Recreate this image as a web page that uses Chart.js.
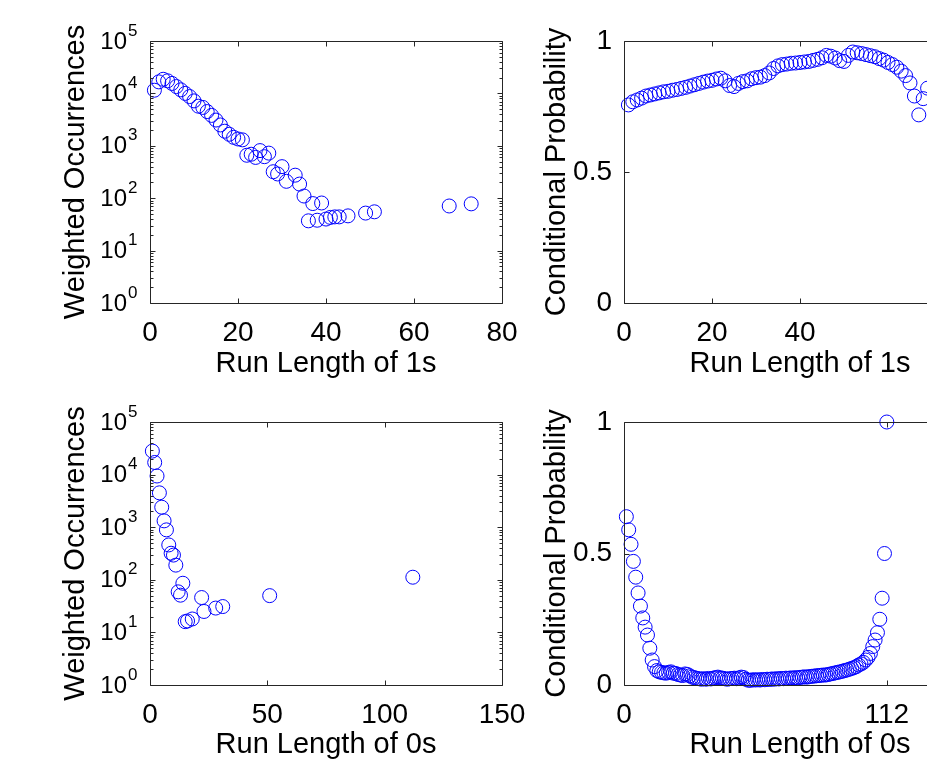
<!DOCTYPE html>
<html>
<head>
<meta charset="utf-8">
<script src="https://cdn.jsdelivr.net/npm/chart.js@4.4.0/dist/chart.umd.min.js"></script>
<style>
  html, body { margin: 0; padding: 0; background: #fff; overflow: hidden; }
  body { width: 927px; height: 761px; position: relative; }
  canvas { position: absolute; }
</style>
</head>
<body>
<canvas id="ones-occ" width="540" height="380" style="left:0;top:0"></canvas>
<canvas id="ones-prob" width="470" height="380" style="left:530px;top:0"></canvas>
<canvas id="zeros-occ" width="540" height="381" style="left:0;top:380px"></canvas>
<canvas id="zeros-prob" width="470" height="381" style="left:530px;top:380px"></canvas>
<script>
// run length of 1s -> weighted occurrences
const onesRunLength = [1, 2, 3, 4, 5, 6, 7, 8, 9, 10, 11, 12, 13, 14, 15, 16, 17, 18, 19, 20,
    21, 22, 23, 24, 25, 26, 27, 28, 29, 30, 31, 33, 34, 35, 36, 37, 38, 39, 40, 41, 42, 43, 45, 49, 51, 68, 73];
const onesOccurrences = [11500, 16600, 18600, 17400, 15500, 13500, 11700, 10000, 8700, 7200, 5700, 5400, 4500, 3800, 3100, 2500, 1900, 1660, 1450, 1350,
    1300, 660, 690, 600, 810, 620, 725, 320, 290, 400, 210, 275, 186, 110, 37, 79, 38, 81, 40, 43, 44, 44, 46, 52, 55, 71, 78];

// conditional probability for 1s (run length 1..69)
const onesProbability = [0.756, 0.768, 0.775, 0.782, 0.790, 0.794, 0.798, 0.802, 0.806, 0.808,
    0.812, 0.815, 0.819, 0.823, 0.828, 0.833, 0.838, 0.843, 0.847, 0.850,
    0.855, 0.858, 0.848, 0.830, 0.826, 0.838, 0.845, 0.848, 0.856, 0.860,
    0.862, 0.868, 0.878, 0.895, 0.905, 0.910, 0.912, 0.915, 0.916, 0.918,
    0.920, 0.922, 0.926, 0.930, 0.936, 0.945, 0.942, 0.935, 0.925, 0.922,
    0.945, 0.958, 0.955, 0.952, 0.948, 0.944, 0.940, 0.933, 0.927, 0.918,
    0.910, 0.900, 0.885, 0.868, 0.840, 0.790, 0.718, 0.780, 0.820];

// run length of 0s -> weighted occurrences
const zerosRunLength = [1, 2, 3, 4, 5, 6, 7, 8, 9, 10, 11, 12, 13, 14, 15, 16, 18, 22, 23, 28, 31, 51, 112];
const zerosOccurrences = [28000, 17000, 9400, 4500, 2400, 1320, 890, 460, 320, 295, 190, 59, 51, 86, 16, 16.5, 18, 46, 25, 29, 31, 50, 112];

// conditional probability for 0s (run length 1..112)
const zerosProbability = [0.64, 0.59, 0.535, 0.47, 0.41, 0.35, 0.30, 0.255, 0.22, 0.19,
    0.14, 0.095, 0.07, 0.055, 0.05, 0.048, 0.046, 0.045, 0.048, 0.05,
    0.045, 0.044, 0.04, 0.038, 0.036, 0.042, 0.04, 0.035, 0.03, 0.028,
    0.025, 0.024, 0.022, 0.024, 0.022, 0.025, 0.023, 0.026, 0.028, 0.03,
    0.027, 0.026, 0.024, 0.022, 0.024, 0.025, 0.026, 0.024, 0.027, 0.03,
    0.028, 0.022, 0.018, 0.018, 0.02, 0.019, 0.02, 0.019, 0.021, 0.02,
    0.022, 0.021, 0.023, 0.022, 0.024, 0.023, 0.025, 0.024, 0.026, 0.025,
    0.027, 0.026, 0.028, 0.027, 0.029, 0.03, 0.031, 0.03, 0.032, 0.033,
    0.034, 0.035, 0.036, 0.037, 0.038, 0.038, 0.040, 0.042, 0.044, 0.046,
    0.048, 0.050, 0.052, 0.055, 0.057, 0.060, 0.063, 0.066, 0.070, 0.076,
    0.080, 0.086, 0.095, 0.105, 0.120, 0.146, 0.171, 0.199, 0.25, 0.33,
    0.5, 1.0];

// ticks
const logTickValues = [1, 10, 100, 1000, 10000, 100000];
const logTickBase = '10';
const logTickExponents = ['0', '1', '2', '3', '4', '5'];
const onesTicks = [0, 20, 40, 60, 80];
const onesProbTicks = [0, 20, 40];
const zerosTicks = [0, 50, 100, 150];
const zerosProbTicks = [0, 112];
const probTicks = [0, 0.5, 1];
const probTickLabels = ['0', '0.5', '1'];

const fontFamily = '"Liberation Sans", Arial, Helvetica, sans-serif';
const axisColor = '#262626';
const markerColor = '#0000ff';

Chart.defaults.font.family = fontFamily;
Chart.defaults.color = '#000';

// MATLAB style box with inward ticks, plus log tick labels with exponents
const boxAxes = {
    id: 'boxAxes',
    afterDraw(chart, args, opts) {
        const { ctx, chartArea: a } = chart;
        const xs = chart.scales.x, ys = chart.scales.y;
        const L = Math.round(a.left) + 0.5, R = Math.round(a.right) + 0.5;
        const T = Math.round(a.top) + 0.5, B = Math.round(a.bottom) + 0.5;
        ctx.save();
        ctx.strokeStyle = axisColor;
        ctx.lineWidth = 1;
        ctx.beginPath();
        ctx.rect(L, T, R - L, B - T);
        xs.ticks.forEach(t => {
            const px = Math.round(xs.getPixelForValue(t.value)) + 0.5;
            ctx.moveTo(px, B); ctx.lineTo(px, B - 5);
            ctx.moveTo(px, T); ctx.lineTo(px, T + 5);
        });
        const yTick = (v, len) => {
            const py = Math.round(ys.getPixelForValue(v)) + 0.5;
            ctx.moveTo(L, py); ctx.lineTo(L + len, py);
            ctx.moveTo(R, py); ctx.lineTo(R - len, py);
        };
        ys.ticks.forEach(t => yTick(t.value, 5));
        if (opts.log) {
            for (let k = 0; k < logTickValues.length - 1; k++) {
                for (let m = 2; m <= 9; m++) yTick(m * logTickValues[k], 3);
            }
        }
        ctx.stroke();

        if (opts.log) {
            ctx.fillStyle = '#000';
            ctx.textBaseline = 'middle';
            ys.ticks.forEach((t, i) => {
                const py = ys.getPixelForValue(t.value);
                ctx.font = '24px ' + fontFamily;
                ctx.textAlign = 'right';
                ctx.fillText(logTickBase, a.left - 23, py + 1);
                ctx.font = '17px ' + fontFamily;
                ctx.textAlign = 'left';
                ctx.fillText(logTickExponents[i], a.left - 22, py - 10);
            });
        }
        ctx.restore();
    }
};

function points(xs, ys) {
    return ys.map((v, i) => ({ x: xs[i], y: v }));
}

function indexed(ys) {
    return ys.map((v, i) => ({ x: i + 1, y: v }));
}

function makePanel(id, cfg) {
    const ctx = document.getElementById(id);
    const yScale = cfg.log ? {
        type: 'logarithmic',
        min: 1,
        max: 100000,
        afterBuildTicks: s => { s.ticks = logTickValues.map(v => ({ value: v })); },
        ticks: { display: false },
        grid: { display: false, drawTicks: false },
        border: { display: false }
    } : {
        type: 'linear',
        min: 0,
        max: 1,
        afterBuildTicks: s => { s.ticks = probTicks.map(v => ({ value: v })); },
        ticks: {
            font: { size: 28 },
            padding: 12,
            callback: (v, i) => probTickLabels[i]
        },
        grid: { display: false, drawTicks: false },
        border: { display: false }
    };
    yScale.afterFit = s => { s.width = cfg.yWidth; };
    yScale.title = {
        display: true,
        text: cfg.yTitle,
        font: { size: 29, lineHeight: 1.2 },
        padding: { top: cfg.yTitlePad, bottom: 0 }
    };

    return new Chart(ctx, {
        type: 'scatter',
        data: {
            datasets: [{
                data: cfg.data,
                pointStyle: 'circle',
                pointRadius: 7,
                pointHoverRadius: 7,
                borderWidth: 1,
                borderColor: markerColor,
                backgroundColor: 'rgba(0,0,0,0)',
                clip: false
            }]
        },
        options: {
            responsive: false,
            animation: false,
            events: [],
            layout: { padding: { left: 0, top: cfg.top, right: cfg.right, bottom: 0 } },
            plugins: {
                legend: { display: false },
                tooltip: { enabled: false },
                boxAxes: { log: cfg.log }
            },
            scales: {
                x: {
                    type: 'linear',
                    min: cfg.xMin,
                    max: cfg.xMax,
                    afterBuildTicks: s => { s.ticks = cfg.xTicks.map(v => ({ value: v })); },
                    afterFit: s => { s.height = cfg.xHeight; },
                    ticks: {
                        font: { size: 28 },
                        padding: 13,
                        maxRotation: 0,
                        autoSkip: false
                    },
                    grid: { display: false, drawTicks: false },
                    border: { display: false },
                    title: {
                        display: true,
                        text: cfg.xTitle,
                        font: { size: 29, lineHeight: 1.1 },
                        padding: { top: 0, bottom: 0 }
                    }
                },
                y: yScale
            }
        },
        plugins: [boxAxes]
    });
}

makePanel('ones-occ', {
    data: points(onesRunLength, onesOccurrences),
    log: true, xMin: 0, xMax: 80, xTicks: onesTicks,
    xTitle: 'Run Length of 1s', yTitle: 'Weighted Occurrences',
    yWidth: 150, yTitlePad: 59, top: 41, right: 38, xHeight: 77
});

makePanel('ones-prob', {
    data: indexed(onesProbability),
    log: false, xMin: 0, xMax: 80, xTicks: onesProbTicks,
    xTitle: 'Run Length of 1s', yTitle: 'Conditional Probability',
    yWidth: 94, yTitlePad: 10, top: 41, right: 24, xHeight: 77
});

makePanel('zeros-occ', {
    data: points(zerosRunLength, zerosOccurrences),
    log: true, xMin: 0, xMax: 150, xTicks: zerosTicks,
    xTitle: 'Run Length of 0s', yTitle: 'Weighted Occurrences',
    yWidth: 150, yTitlePad: 59, top: 42, right: 38, xHeight: 76
});

makePanel('zeros-prob', {
    data: indexed(zerosProbability),
    log: false, xMin: 0, xMax: 150, xTicks: zerosProbTicks,
    xTitle: 'Run Length of 0s', yTitle: 'Conditional Probability',
    yWidth: 94, yTitlePad: 10, top: 42, right: 24, xHeight: 76
});
</script>
</body>
</html>
